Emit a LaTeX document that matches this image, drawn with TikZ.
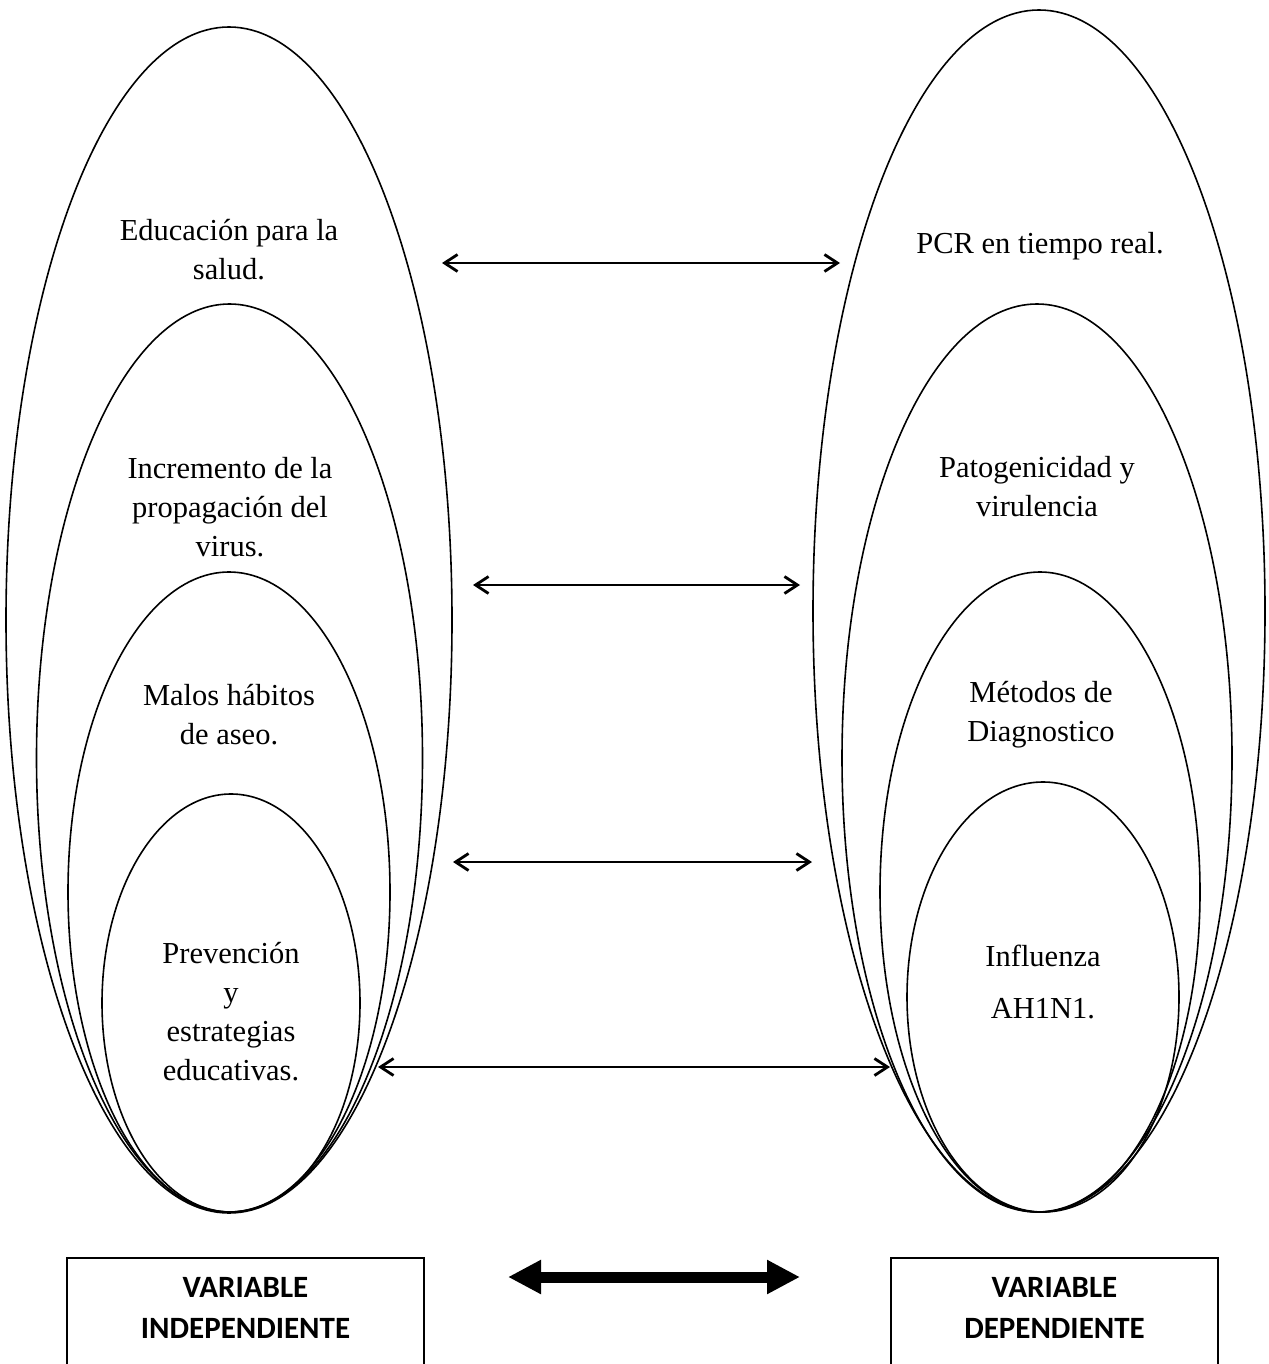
\documentclass[tikz,border=0pt]{standalone}
\usepackage{fontspec}
\setmainfont{Liberation Serif}
\newfontfamily\calib{Carlito}
\usetikzlibrary{arrows.meta,shapes.geometric}
\begin{document}
\begin{tikzpicture}[x=1pt,y=-1pt,
  ell/.style={draw,line width=1.6pt,ellipse,inner sep=0pt},
  lbl/.style={align=center,font=\fontsize{30.5}{39}\selectfont},
  thinarrow/.style={line width=2.8pt,{Straight Barb[length=13pt,width=17pt]}-{Straight Barb[length=13pt,width=17pt]}},
  thickarrow/.style={line width=11pt,{Triangle[length=33pt,width=32pt]}-{Triangle[length=33pt,width=32pt]}},
  varbox/.style={draw,line width=1.5pt,anchor=north,align=center,
    font=\calib\bfseries\fontsize{31}{41}\selectfont,
    minimum width=357pt,inner ysep=20pt,text depth=90pt}]
\useasboundingbox (0,0) rectangle (1268,1364);
% left ellipses
\node[ell,minimum width=446pt,minimum height=1186pt] (L1) at (229,620) {};
\node[ell,minimum width=386pt,minimum height=908pt] (L2) at (229.5,758) {};
\node[ell,minimum width=322pt,minimum height=640pt] (L3) at (229,892) {};
\node[ell,minimum width=258pt,minimum height=418pt] (L4) at (231,1003) {};
% right ellipses
\node[ell,minimum width=452pt,minimum height=1202pt] (R1) at (1039,611) {};
\node[ell,minimum width=390pt,minimum height=908pt] (R2) at (1037,758) {};
\node[ell,minimum width=320pt,minimum height=640pt] (R3) at (1040,892) {};
\node[ell,minimum width=272pt,minimum height=430pt] (R4) at (1043,997) {};
% labels
\node[lbl] (tL1) at (229,250) {Educación para la\\salud.};
\node[lbl] (tL2) at (230,507) {Incremento de la\\propagación del\\virus.};
\node[lbl] (tL3) at (229,715) {Malos hábitos\\de aseo.};
\node[lbl] (tL4) at (231,1012) {Prevención\\y\\estrategias\\educativas.};
\node[lbl] (tR1) at (1040,246) {PCR en tiempo real.};
\node[lbl] (tR2) at (1037,487) {Patogenicidad y\\virulencia};
\node[lbl] (tR3) at (1041,715) {Métodos de\\Diagnostico};
\node[lbl] (tR4) at (1043,982) {Influenza\\[13pt]AH1N1.};
% arrow endpoints
\coordinate (a1l) at (442,263); \coordinate (a1r) at (840,263);
\coordinate (a2l) at (473,585); \coordinate (a2r) at (800,585);
\coordinate (a3l) at (453,862); \coordinate (a3r) at (812,862);
\coordinate (a4l) at (378,1067); \coordinate (a4r) at (890,1067);
\draw[thinarrow] (a1l) -- (a1r);
\draw[thinarrow] (a2l) -- (a2r);
\draw[thinarrow] (a3l) -- (a3r);
\draw[thinarrow] (a4l) -- (a4r);
% boxes
\node[varbox] (VI) at (245.5,1257) {VARIABLE\\INDEPENDIENTE};
\node[varbox,minimum width=327pt] (VD) at (1054.5,1257) {VARIABLE\\DEPENDIENTE};
\coordinate (tal) at (508,1277); \coordinate (tar) at (800,1277);
\draw[thickarrow] (tal) -- (tar);
\end{tikzpicture}
\end{document}
